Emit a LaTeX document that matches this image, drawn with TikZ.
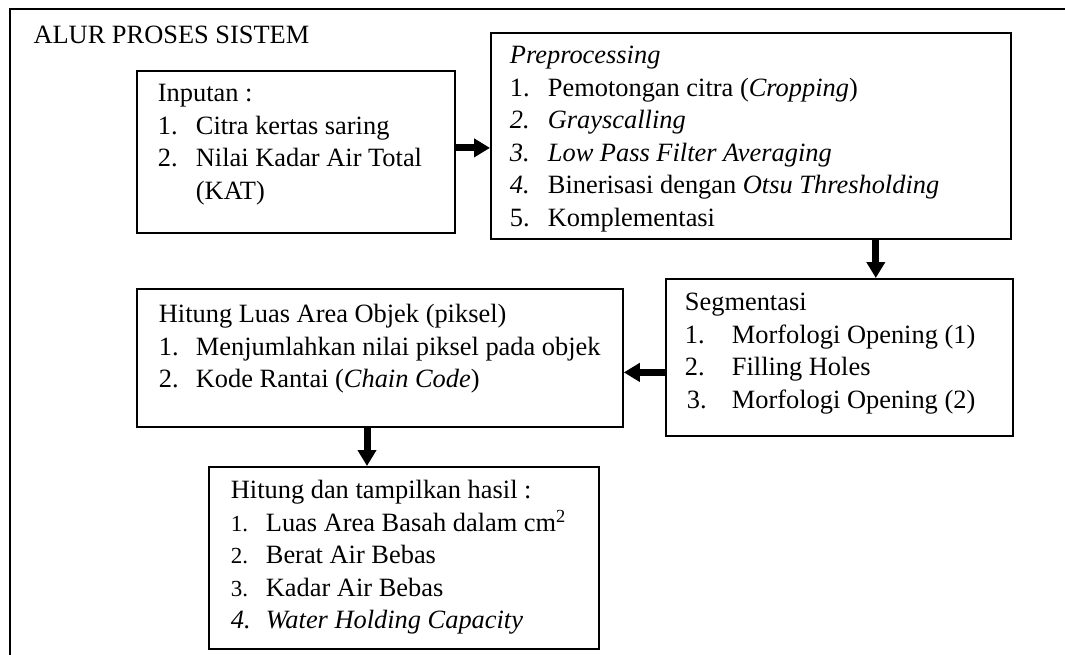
\documentclass[tikz,border=0pt]{standalone}
\usepackage{fontspec}
\setmainfont{Liberation Serif}
\usetikzlibrary{arrows.meta}
\newcommand{\boxtext}[5]{\hspace*{#3pt}\parbox[t][#2pt][t]{\dimexpr#1pt-#3pt\relax}{\raggedright\rule{0pt}{#4pt}#5}}
\newcommand{\li}[3]{\makebox[#1pt][l]{#2}#3}

\begin{document}
\begin{tikzpicture}[x=1pt,y=-1pt,
  every node/.style={font=\fontsize{26.4}{32.5}\selectfont},
  procbox/.style={draw,line width=1.8pt,anchor=north west,inner sep=0pt},
  flowarrow/.style={line width=7pt,-{Triangle[length=16pt,width=18pt]}}]
\useasboundingbox (0,0) rectangle (1065,655);
\draw[line width=2pt] (10,655)--(10,9)--(1065,9);
\node[anchor=base west] (title) at (30,44) {ALUR PROSES SISTEM};
\node[procbox] (input) at (136,70) {\boxtext{318}{162}{21}{31}{Inputan :\\
\li{38}{1.}{Citra kertas saring}\\
\li{38}{2.}{Nilai Kadar Air Total}\\
\hspace*{38pt}(KAT)}};
\node[procbox] (prep) at (490,32) {\boxtext{520}{206}{19}{31}{\textit{Preprocessing}\\
\li{38}{1.}{Pemotongan citra (\textit{Cropping})}\\
\li{38}{\textit{2.}}{\textit{Grayscalling}}\\
\li{38}{\textit{3.}}{\textit{Low Pass Filter Averaging}}\\
\li{38}{\textit{4.}}{Binerisasi dengan \textit{Otsu Thresholding}}\\
\li{38}{5.}{Komplementasi}}};
\node[procbox] (seg) at (665,278) {\boxtext{347}{157}{19}{32}{Segmentasi\\
\li{47}{1.}{Morfologi Opening (1)}\\
\li{47}{2.}{Filling Holes}\\
\hspace*{2pt}\li{45}{3.}{Morfologi Opening (2)}}};
\node[procbox] (luas) at (136,288) {\boxtext{486}{138}{22}{34}{Hitung Luas Area Objek (piksel)\\
\li{37}{1.}{Menjumlahkan nilai piksel pada objek}\\
\li{37}{2.}{Kode Rantai (\textit{Chain Code})}}};
\node[procbox] (hasil) at (208,466) {\boxtext{390}{182}{22}{32}{Hitung dan tampilkan hasil :\\
\li{35}{\fontsize{23}{32.5}\selectfont 1.}{Luas Area Basah dalam cm\textsuperscript{2}}\\
\li{35}{\fontsize{23}{32.5}\selectfont 2.}{Berat Air Bebas}\\
\li{35}{\fontsize{23}{32.5}\selectfont 3.}{Kadar Air Bebas}\\
\li{35}{\textit{4.}}{\textit{Water Holding Capacity}}}};
\draw[flowarrow] ([yshift=4pt]input.east) -- ([yshift=4pt]input.east -| prep.west);
\coordinate (pdown) at ([xshift=-136pt]prep.south east);
\draw[flowarrow] (pdown) -- (pdown |- seg.north);
\coordinate (sleft) at ([yshift=-15pt]seg.west);
\draw[flowarrow] (sleft) -- (sleft -| luas.east);
\coordinate (ldown) at ([xshift=231pt]luas.south west);
\draw[flowarrow] (ldown) -- (ldown |- hasil.north);
\end{tikzpicture}
\end{document}
